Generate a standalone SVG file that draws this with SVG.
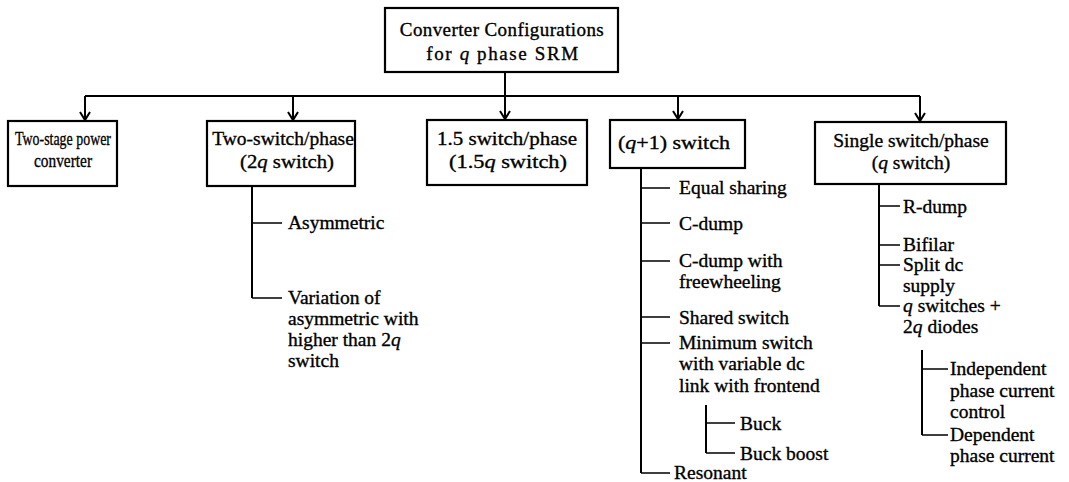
<svg xmlns="http://www.w3.org/2000/svg" width="1069" height="482" viewBox="0 0 1069 482">
<defs>
<marker id="arr" markerWidth="12" markerHeight="12" refX="10" refY="6" orient="auto" markerUnits="userSpaceOnUse" viewBox="0 0 12 12">
<path d="M2,1 L10,6 L2,11" fill="none" stroke="#000" stroke-width="2"/>
</marker>
<style>
.box{fill:#fff;stroke:#000;stroke-width:2.2}
.ln{fill:none;stroke:#000;stroke-width:2}
.dn{fill:none;stroke:#000;stroke-width:2;marker-end:url(#arr)}
.tk{fill:none;stroke:#000;stroke-width:1.6}
text{font-family:"Liberation Serif","Times New Roman",serif;font-size:19.5px;fill:#000;stroke:#000;stroke-width:0.35}
.c{text-anchor:middle}
.t{font-size:19px;letter-spacing:0.4px}
</style>
</defs>
<rect width="1069" height="482" fill="#fff"/>
<g id="root">
<rect class="box" x="385" y="8" width="233" height="64"/>
<text class="c t" x="502" y="36">Converter Configurations</text>
<text class="c t" x="503" y="60" style="letter-spacing:1.6px">for <tspan font-style="italic">q</tspan> phase SRM</text>
</g>
<g id="two-stage">
<rect class="box" x="8" y="121" width="109" height="65"/>
<text class="c" x="63" y="145" textLength="96" lengthAdjust="spacingAndGlyphs">Two-stage power</text>
<text class="c" x="63" y="167" textLength="58" lengthAdjust="spacingAndGlyphs">converter</text>
</g>
<g id="two-switch">
<rect class="box" x="207" y="121" width="148" height="65"/>
<text class="c" x="283" y="145">Two-switch/phase</text>
<text class="c" x="287" y="168" textLength="94" lengthAdjust="spacingAndGlyphs">(2<tspan font-style="italic">q</tspan> switch)</text>
</g>
<g id="one-five-switch">
<rect class="box" x="427" y="120" width="160" height="65"/>
<text class="c" x="507" y="145" textLength="140" lengthAdjust="spacingAndGlyphs">1.5 switch/phase</text>
<text class="c" x="508" y="168" textLength="118" lengthAdjust="spacingAndGlyphs">(1.5<tspan font-style="italic">q</tspan> switch)</text>
</g>
<g id="q-plus-one">
<rect class="box" x="610" y="120" width="135" height="48"/>
<text class="c" x="674" y="149" textLength="112" lengthAdjust="spacingAndGlyphs">(<tspan font-style="italic">q</tspan>+1) switch</text>
</g>
<g id="single-switch">
<rect class="box" x="815" y="122" width="191" height="62"/>
<text class="c" x="911" y="147">Single switch/phase</text>
<text class="c" x="911" y="169">(<tspan font-style="italic">q</tspan> switch)</text>
</g>
<g id="two-switch-list">
<text x="288" y="229">Asymmetric</text>
<text x="288" y="304">Variation of</text>
<text x="288" y="325">asymmetric with</text>
<text x="288" y="346">higher than 2<tspan font-style="italic">q</tspan></text>
<text x="288" y="367">switch</text>
</g>
<g id="q-plus-one-list">
<text x="679" y="194">Equal sharing</text>
<text x="679" y="230">C-dump</text>
<text x="679" y="267">C-dump with</text>
<text x="679" y="288">freewheeling</text>
<text x="679" y="324">Shared switch</text>
<text x="679" y="349">Minimum switch</text>
<text x="679" y="370">with variable dc</text>
<text x="679" y="392">link with frontend</text>
<text x="740" y="430">Buck</text>
<text x="740" y="460">Buck boost</text>
<text x="674" y="479">Resonant</text>
</g>
<g id="single-switch-list">
<text x="903" y="213">R-dump</text>
<text x="903" y="251">Bifilar</text>
<text x="903" y="271">Split dc</text>
<text x="903" y="292">supply</text>
<text x="903" y="312"><tspan font-style="italic">q</tspan> switches +</text>
<text x="903" y="333">2<tspan font-style="italic">q</tspan> diodes</text>
<text x="950" y="375">Independent</text>
<text x="950" y="397">phase current</text>
<text x="950" y="418">control</text>
<text x="950" y="441">Dependent</text>
<text x="950" y="462">phase current</text>
</g>
<g id="connectors">
<path class="ln" d="M505,72 V96 M85,96 H920"/>
<path class="dn" d="M85,96 V120"/>
<path class="dn" d="M293,96 V120"/>
<path class="dn" d="M505,96 V119"/>
<path class="dn" d="M678,96 V119"/>
<path class="dn" d="M920,96 V121"/>
<path class="ln" d="M252,186 V298"/>
<path class="tk" d="M252,223 H282 M252,298 H282"/>
<path class="ln" d="M641,168 V473"/>
<path class="tk" d="M641,188 H670 M641,223 H670 M641,261 H670 M641,317 H670 M641,343 H670 M641,473 H670"/>
<path class="ln" d="M706,405 V453"/>
<path class="tk" d="M706,423 H735 M706,453 H735"/>
<path class="ln" d="M879,184 V306"/>
<path class="tk" d="M879,206 H900 M879,245 H900 M879,265 H900 M879,306 H900"/>
<path class="ln" d="M922,350 V435"/>
<path class="tk" d="M922,369 H948 M922,435 H948"/>
</g>
</svg>
